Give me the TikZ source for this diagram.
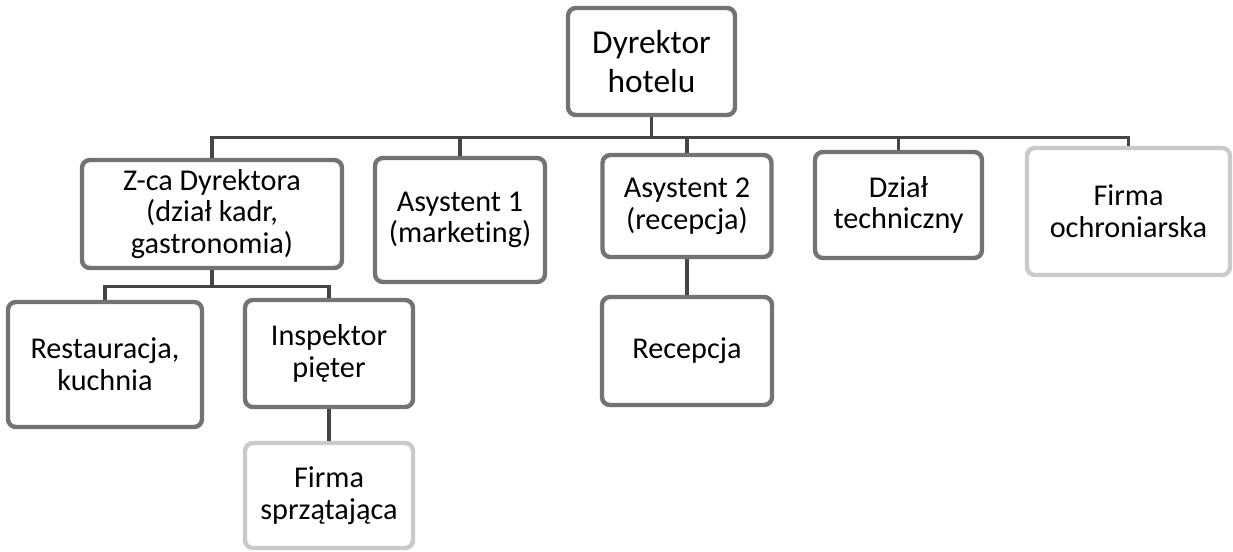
\documentclass[tikz,border=0pt]{standalone}
\usepackage{fontspec}
\setmainfont{Carlito}[Ligatures=CommonOff]
\definecolor{cframe}{HTML}{737373}
\definecolor{clight}{HTML}{CACACA}
\definecolor{cline}{HTML}{454545}
\tikzset{
  every picture/.style={line width=1.2pt},
  box/.style={draw=#1, fill=white, rounded corners=4.5pt, align=center, inner sep=2pt, line width=2.5pt,
    font=\fontsize{17.2}{18}\selectfont},
  box/.default=cframe,
  boxsize/.style 2 args={minimum width=#1*0.02cm, minimum height=#2*0.02cm},
  link/.style={draw=cline, line width=1.8pt},
  head/.style={font=\fontsize{19}{22}\selectfont},
}

\begin{document}
\begin{tikzpicture}[x=0.02cm, y=-0.02cm]
  \useasboundingbox (0,0) rectangle (1233,551);
  % top level
  \node[box, head, boxsize={167}{107}] (dir) at (651.5,61.5) {Dyrektor\\hotelu};
  % second level
  \node[box, boxsize={260}{108}] (zca) at (212,214) {Z-ca Dyrektora\\(dział kadr,\\gastronomia)};
  \node[box, boxsize={170}{124}] (as1) at (460,220) {Asystent 1\\(marketing)};
  \node[box, boxsize={169}{102}] (as2) at (687,206) {Asystent 2\\(recepcja)};
  \node[box, boxsize={167}{106}] (dt) at (898.5,205) {Dział\\techniczny};
  \node[box=clight, boxsize={203}{127}] (fo) at (1128.5,211.5) {Firma\\ochroniarska};
  % third level
  \node[box, boxsize={194}{125}] (rest) at (105,364.5) {Restauracja,\\kuchnia};
  \node[box, boxsize={168}{107}] (insp) at (329,353.5) {Inspektor\\pięter};
  \node[box, boxsize={170}{108}] (rec) at (687,351) {Recepcja};
  \node[box=clight, boxsize={168}{105}] (fs) at (329,495.5) {Firma\\sprzątająca};
  % connectors
  \foreach \c in {zca,as1,as2,dt,fo}
    \draw[link] (dir.south) -- ++(0,20) -| (\c.north);
  \foreach \c in {rest,insp}
    \draw[link] (zca.south) -- ++(0,16) -| (\c.north);
  \draw[link] (as2.south) -- (rec.north);
  \draw[link] (insp.south) -- (fs.north);
\end{tikzpicture}
\end{document}
